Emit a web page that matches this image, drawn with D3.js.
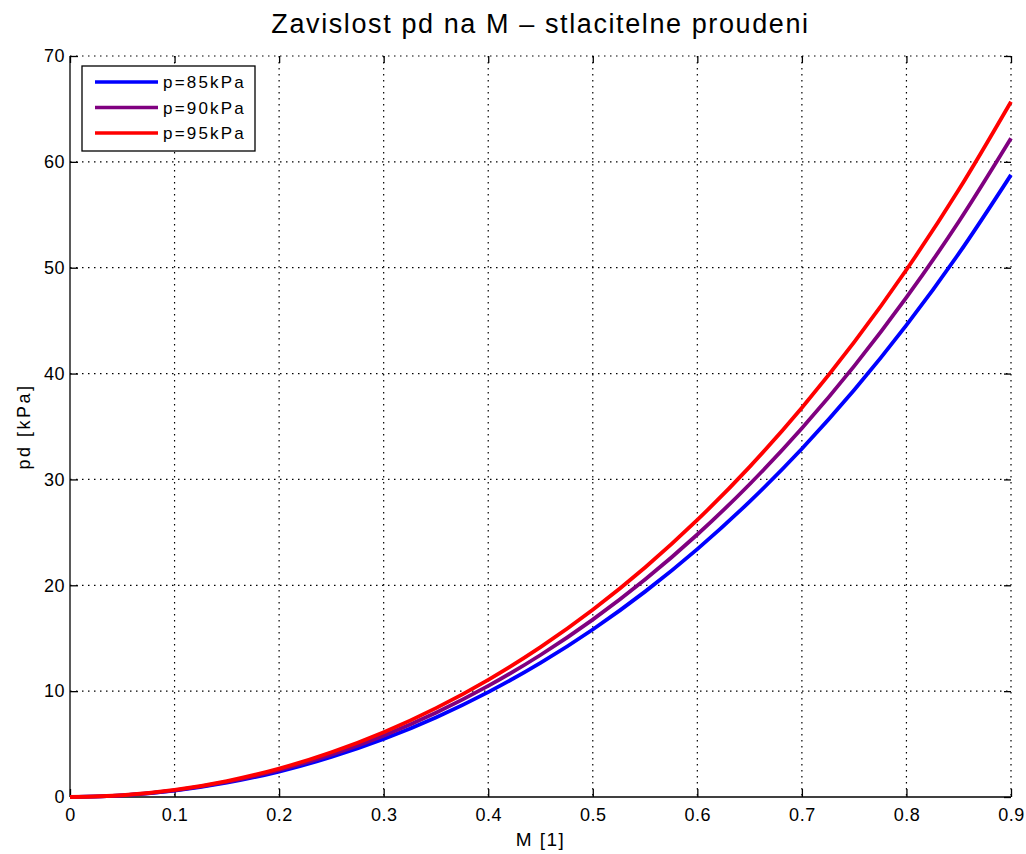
<!DOCTYPE html>
<html lang="en">
<head>
<meta charset="UTF-8">
<title>Zavislost pd na M</title>
<script src="https://d3js.org/d3.v7.min.js"></script>
<style>
  body { margin: 0; background: #fff; }
  text { font-family: "Liberation Sans", Arial, sans-serif; fill: #000; }
  .tick text { font-size: 18px; letter-spacing: 0.5px; }
  .grid line { stroke: #000; stroke-dasharray: 1.5,4.5; stroke-width: 1.2; }
  .axis path, .axis line { stroke: #000; stroke-width: 1.3; }
</style>
</head>
<body>
<div id="chart"></div>
<script>
const machs = [0, 0.05, 0.1, 0.15, 0.2, 0.25, 0.3, 0.35, 0.4, 0.45, 0.5,
               0.55, 0.6, 0.65, 0.7, 0.75, 0.8, 0.85, 0.9];
const pd85 = [0, 0.149, 0.597, 1.346, 2.404, 3.777, 5.477, 7.515, 9.907, 12.670,
              15.828, 19.401, 23.419, 27.907, 32.904, 38.444, 44.568, 51.324, 58.771];
const pd90 = [0, 0.158, 0.632, 1.426, 2.545, 4.000, 5.799, 7.957, 10.490, 13.416,
              16.759, 20.542, 24.797, 29.548, 34.839, 40.706, 47.190, 54.343, 62.228];
const pd95 = [0, 0.166, 0.667, 1.505, 2.687, 4.222, 6.121, 8.399, 11.073, 14.161,
              17.690, 21.683, 26.175, 31.190, 36.775, 42.967, 49.812, 57.362, 65.685];
const seriesNames = ["p=85kPa", "p=90kPa", "p=95kPa"];
const seriesColors = ["#0000ff", "#800080", "#ff0000"];
const xTicks = [0, 0.1, 0.2, 0.3, 0.4, 0.5, 0.6, 0.7, 0.8, 0.9];
const yTicks = [0, 10, 20, 30, 40, 50, 60, 70];

const W = 1026, H = 854;
const margin = { top: 56, right: 15, bottom: 57, left: 70 };
const width = W - margin.left - margin.right,
      height = H - margin.top - margin.bottom;

const root = d3.select("#chart").append("svg")
  .attr("width", W).attr("height", H);
const svg = root.append("g")
  .attr("transform", `translate(${margin.left},${margin.top})`);

const x = d3.scaleLinear().domain([0, 0.9]).range([0, width]);
const y = d3.scaleLinear().domain([0, 70]).range([height, 0]);

// grid (dotted), includes top and right edges
svg.append("g").attr("class", "grid")
  .selectAll("line.v").data(xTicks.slice(1)).enter().append("line")
  .attr("x1", d => x(d)).attr("x2", d => x(d))
  .attr("y1", 0).attr("y2", height);
svg.append("g").attr("class", "grid")
  .selectAll("line.h").data(yTicks.slice(1)).enter().append("line")
  .attr("x1", 0).attr("x2", width)
  .attr("y1", d => y(d)).attr("y2", d => y(d));

// small inward ticks on top/right
svg.append("g").attr("class", "axis")
  .call(d3.axisTop(x).tickValues(xTicks).tickSize(-7).tickFormat(""))
  .call(g => g.select(".domain").remove());
svg.append("g").attr("class", "axis")
  .attr("transform", `translate(${width},0)`)
  .call(d3.axisRight(y).tickValues(yTicks).tickSize(-7).tickFormat(""))
  .call(g => g.select(".domain").remove());

// axes
svg.append("g").attr("class", "axis")
  .attr("transform", `translate(0,${height})`)
  .call(d3.axisBottom(x).tickValues(xTicks).tickSize(-8).tickSizeOuter(0)
        .tickPadding(11).tickFormat(d => d === 0 ? "0" : d3.format(".1f")(d)))
  .call(g => g.select(".domain").attr("d", `M0,0H${width}`));
svg.append("g").attr("class", "axis")
  .call(d3.axisLeft(y).tickValues(yTicks).tickSize(-8).tickSizeOuter(0)
        .tickPadding(5))
  .call(g => g.select(".domain").attr("d", `M0,0V${height}`));

// lines
const series = [pd85, pd90, pd95];
const line = d3.line()
  .x((d, i) => x(machs[i]))
  .y(d => y(d))
  .curve(d3.curveMonotoneX);
series.forEach((s, k) => {
  svg.append("path").datum(s)
    .attr("fill", "none")
    .attr("stroke", seriesColors[k])
    .attr("stroke-width", 3.8)
    .attr("d", line);
});

// legend
const lg = svg.append("g").attr("transform", "translate(12,10)");
lg.append("rect").attr("width", 173).attr("height", 85)
  .attr("fill", "#fff").attr("stroke", "#000").attr("stroke-width", 1.3);
seriesNames.forEach((n, k) => {
  const yy = 16 + k * 25.5;
  lg.append("line").attr("x1", 13).attr("x2", 76).attr("y1", yy).attr("y2", yy)
    .attr("stroke", seriesColors[k]).attr("stroke-width", 3.5);
  lg.append("text").attr("x", 81).attr("y", yy + 6)
    .style("font-size", "17px").style("letter-spacing", "2.2px").text(n);
});

// titles
root.append("text").attr("x", margin.left + width / 2).attr("y", 33)
  .attr("text-anchor", "middle").style("font-size", "27px")
  .style("letter-spacing", "1.6px")
  .text("Zavislost pd na M \u2013 stlacitelne proudeni");
root.append("text").attr("x", margin.left + width / 2).attr("y", 846)
  .attr("text-anchor", "middle").style("font-size", "19px")
  .style("letter-spacing", "1.5px")
  .text("M [1]");
root.append("text")
  .attr("transform", `translate(30,${margin.top + height / 2}) rotate(-90)`)
  .attr("text-anchor", "middle").style("font-size", "18px")
  .style("letter-spacing", "2.5px")
  .text("pd [kPa]");
</script>
</body>
</html>
